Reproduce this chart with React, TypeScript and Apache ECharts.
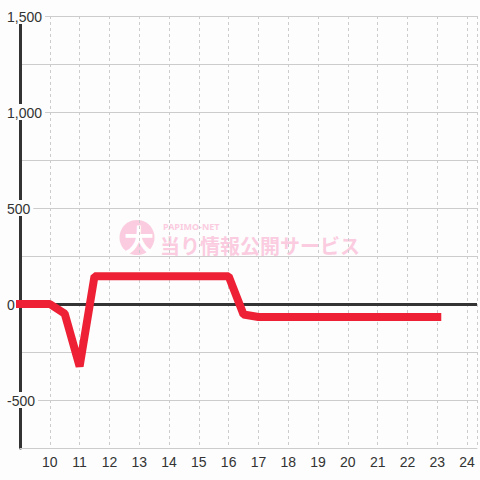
import React, { useEffect, useRef } from "react";
import * as echarts from "echarts";

const hours = [9, 10, 10.5, 11, 11.5, 12, 13, 14, 15, 16, 16.5, 17, 18, 19, 20, 21, 22, 23];
const values = [0, 0, -50, -325, 145, 145, 145, 145, 145, 145, -55, -68, -68, -68, -68, -68, -68, -68];
const yMin = -750;
const yMax = 1500;
const xMin = 9;
const xMax = 24.333;

const fmt = (v: number) => v.toLocaleString("en-US");

export default function App() {
  const ref = useRef<HTMLDivElement>(null);
  useEffect(() => {
    if (!ref.current) return;
    const chart = echarts.init(ref.current, undefined, { renderer: "svg" });
    const bg = "#fcfdfc";
    const pink = "#fbc6dc";
    chart.setOption({
      animation: false,
      backgroundColor: bg,
      textStyle: { fontFamily: "Liberation Sans, Arial, sans-serif" },
      grid: { left: 20, right: 0, top: 16, bottom: 32, containLabel: false },
      graphic: [
        {
          type: "group",
          z: 1,
          silent: true,
          children: [
            { type: "circle", shape: { cx: 137, cy: 237.5, r: 17.5 }, style: { fill: pink, opacity: 0.9 } },
            {
              type: "text",
              x: 139,
              y: 238,
              style: { text: "大", fill: "#ffffff", font: "bold 30px 'Noto Sans CJK JP'", align: "center", verticalAlign: "middle", lineHeight: 30 },
            },
            {
              type: "text",
              x: 163,
              y: 222,
              style: { text: "PAPIMO-NET", fill: pink, font: "bold 9px 'Noto Sans', sans-serif", align: "left", verticalAlign: "top", lineHeight: 9, opacity: 0.9 },
            },
            {
              type: "text",
              x: 160,
              y: 235,
              style: { text: "当り情報公開サービス", fill: pink, font: "bold 20px 'Noto Sans CJK JP'", align: "left", verticalAlign: "top", lineHeight: 20, opacity: 0.9 },
            },
          ],
        },
      ],
      xAxis: {
        type: "value",
        min: xMin,
        max: xMax,
        interval: 1,
        axisLine: { show: true, onZero: false, lineStyle: { color: "#cccccc", width: 1 } },
        axisTick: { show: false },
        axisLabel: {
          color: "#333333",
          fontSize: 14,
          margin: 7,
          formatter: (v: number) => (Number.isInteger(v) && v > xMin ? String(v) : ""),
        },
        splitLine: { show: true, lineStyle: { color: "#cccccc", width: 1, type: [3, 3] } },
      },
      yAxis: {
        type: "value",
        min: yMin,
        max: yMax,
        interval: 250,
        axisLine: { show: true, lineStyle: { color: "#333333", width: 3 } },
        axisTick: { show: false },
        axisLabel: {
          align: "left",
          margin: 14,
          formatter: (v: number) => (v % 500 === 0 && v !== yMin ? `{b|${fmt(v)}}` : ""),
          rich: {
            b: { color: "#333333", fontSize: 14, backgroundColor: bg, padding: [2, 3, 0, 1] },
          },
        },
        splitLine: { show: true, lineStyle: { color: "#cccccc", width: 1 } },
      },
      series: [
        {
          type: "line",
          z: 10,
          data: hours.map((h, i) => [h, values[i]]),
          showSymbol: false,
          lineStyle: { color: "#ee2035", width: 8, cap: "square" },
          markLine: {
            silent: true,
            symbol: "none",
            z: 5,
            label: { show: false },
            lineStyle: { color: "#333333", width: 3, type: "solid" },
            data: [{ yAxis: 0 }],
          },
        },
      ],
    });
    return () => chart.dispose();
  }, []);
  return <div ref={ref} style={{ position: "absolute", left: 0, top: 0, width: 480, height: 480 }} />;
}
